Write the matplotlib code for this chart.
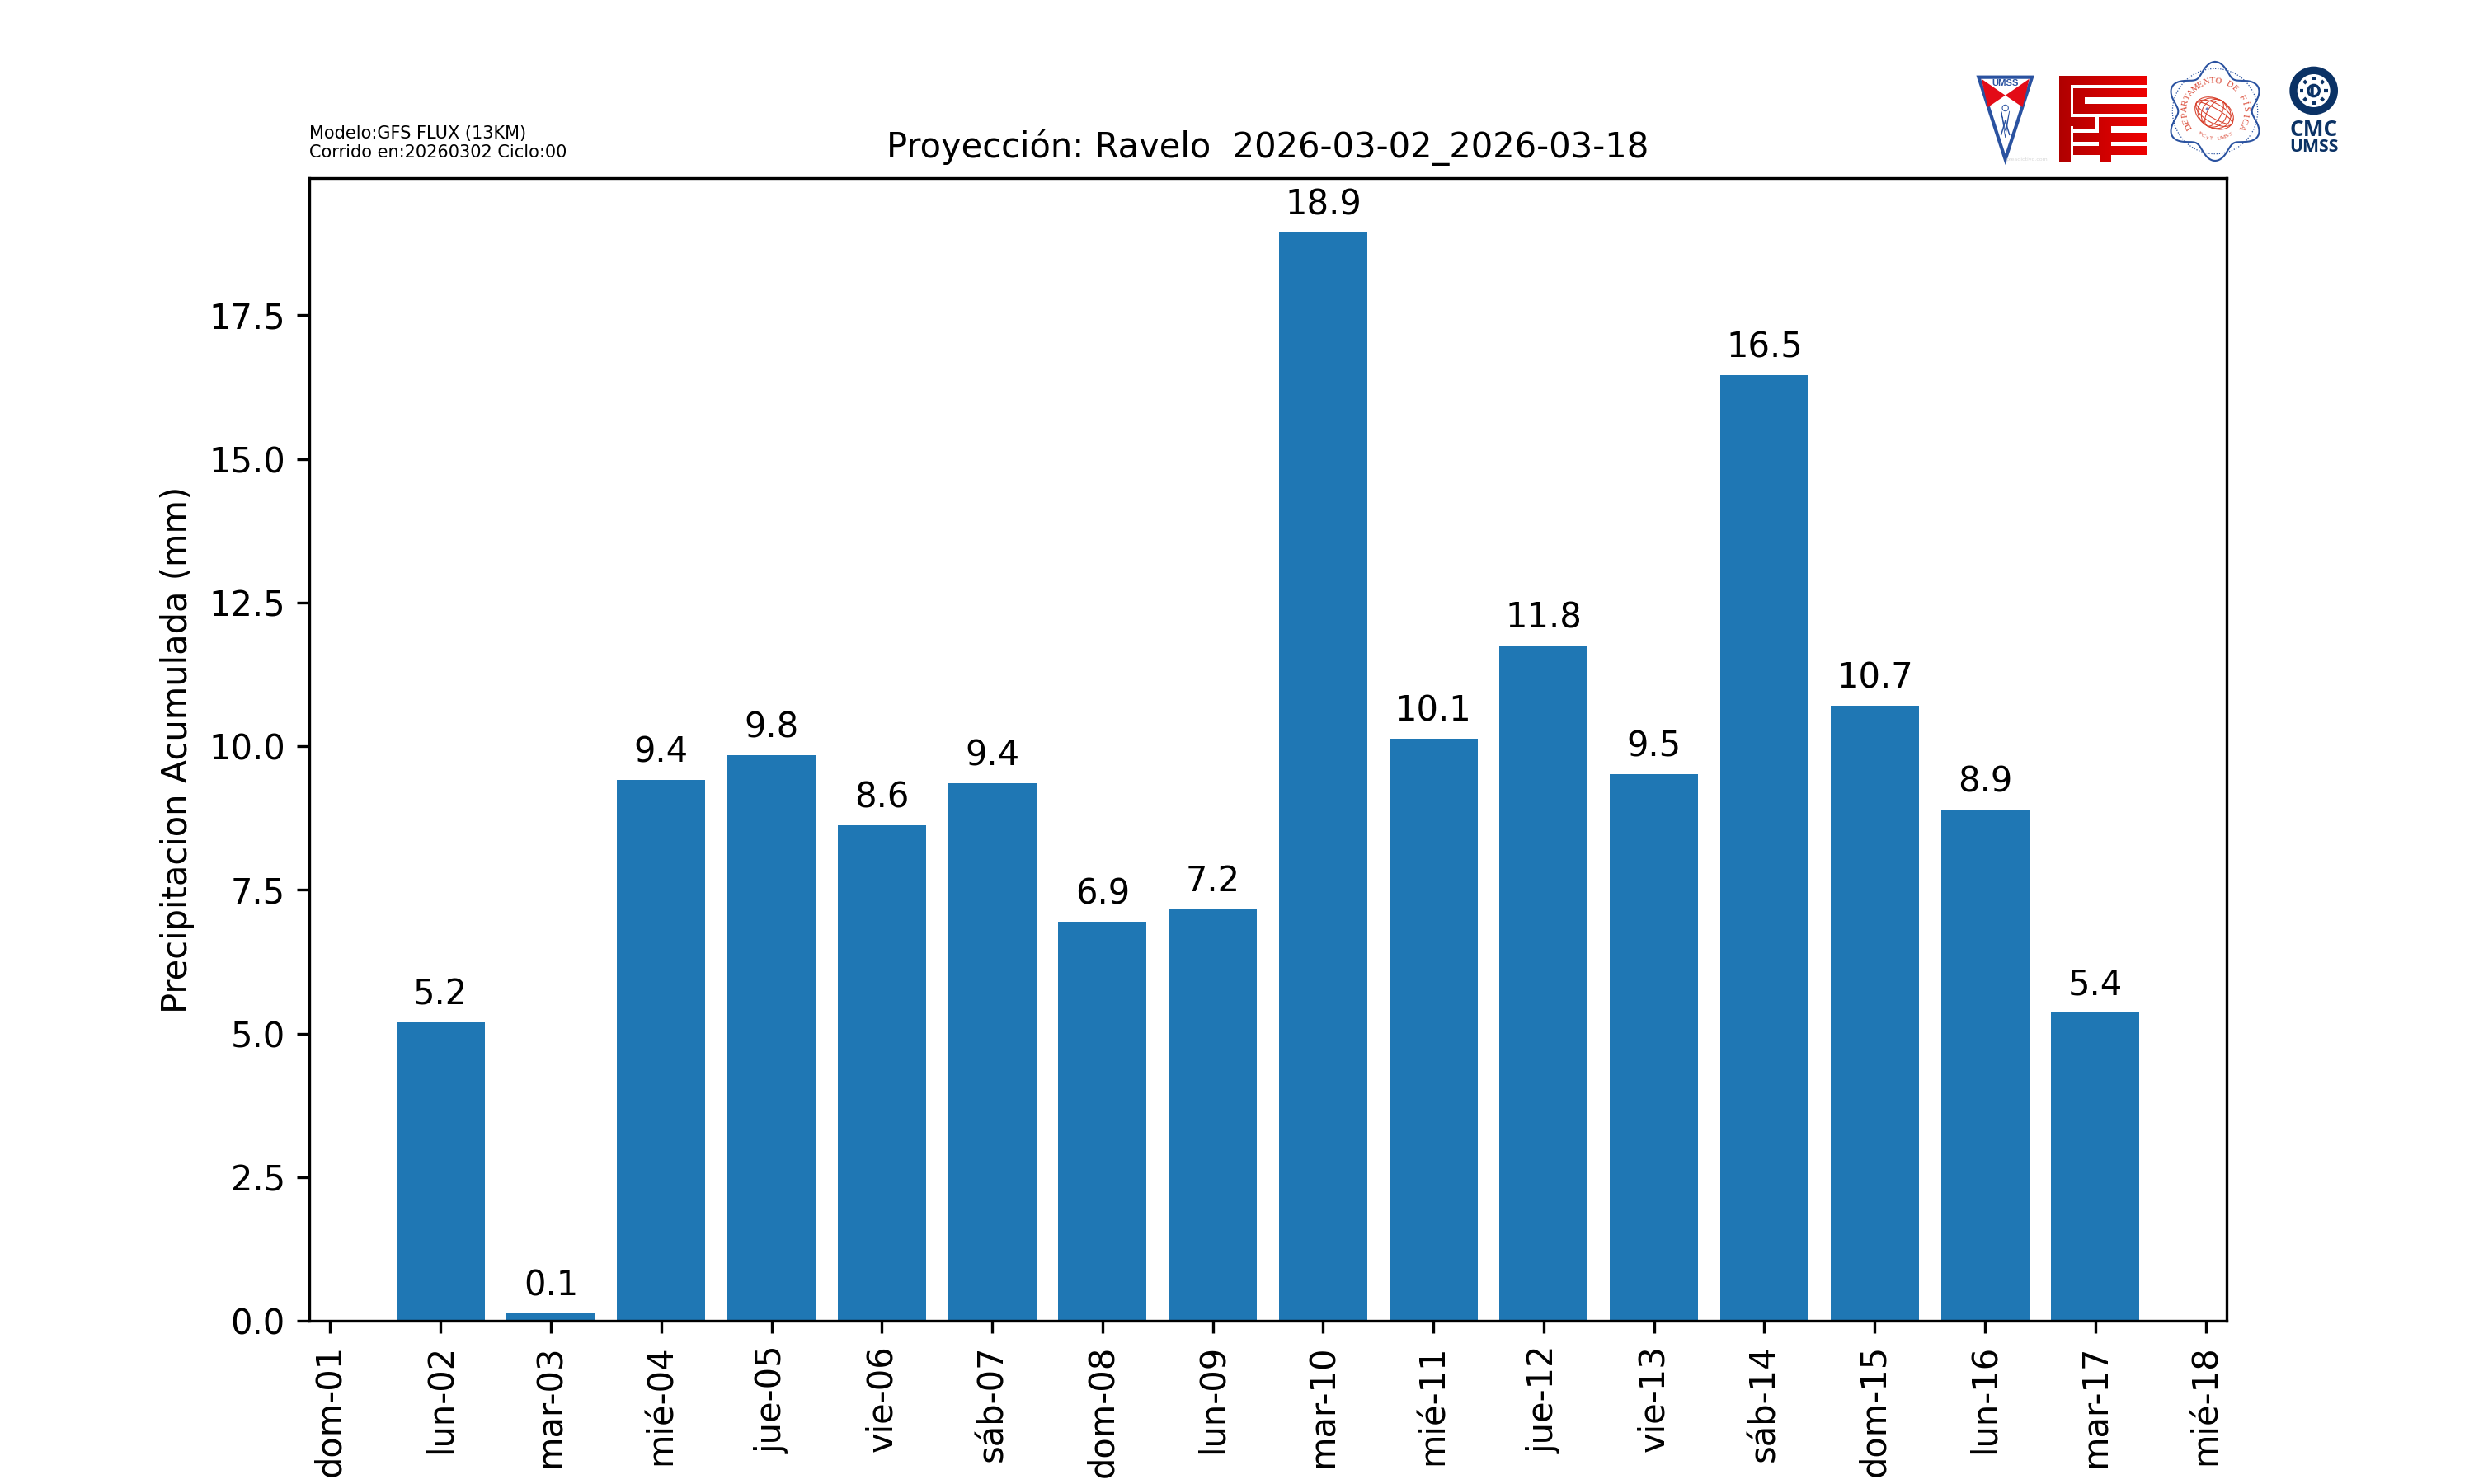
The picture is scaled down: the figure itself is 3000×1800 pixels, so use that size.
import numpy as np
import matplotlib
matplotlib.use("Agg")
import matplotlib.pyplot as plt
from matplotlib.patches import Polygon, Circle, Ellipse, PathPatch
from matplotlib.path import Path

dias = [2, 3, 4, 5, 6, 7, 8, 9, 10, 11, 12, 13, 14, 15, 16, 17]
precip = [5.19, 0.13, 9.41, 9.84, 8.62, 9.36, 6.94, 7.16, 18.94, 10.13, 11.75, 9.52, 16.46, 10.70, 8.90, 5.36]
tick_pos = list(range(1, 19))
tick_labels = ["dom-01", "lun-02", "mar-03", "mié-04", "jue-05", "vie-06", "sáb-07", "dom-08", "lun-09",
               "mar-10", "mié-11", "jue-12", "vie-13", "sáb-14", "dom-15", "lun-16", "mar-17", "mié-18"]

fig, ax = plt.subplots(figsize=(10, 6), dpi=300)
bars = ax.bar(dias, precip, color="#1f77b4")
for d, v in zip(dias, precip):
    ax.annotate(f"{v:.1f}", (d, v), xytext=(0, 3), textcoords="offset points", ha="center", va="bottom")
ax.set_xticks(tick_pos)
ax.set_xticklabels(tick_labels, rotation=90)
ax.set_ylabel("Precipitacion Acumulada (mm)")
ax.set_title("Proyección: Ravelo  2026-03-02_2026-03-18", fontsize=10)
fig.text(0.125, 0.8915, "Modelo:GFS FLUX (13KM)\nCorrido en:20260302 Ciclo:00", fontsize=5, va="bottom")

# logos: overlay axes, coordinates in a 3x grid of the logo strip
lg = fig.add_axes([2380 / 3000, 1 - 230 / 1800, 520 / 3000, 180 / 1800])
lg.axis("off")
azul = "#2a52a0"

# UMSS
lg.add_patch(Polygon([(58, 131), (252, 131), (155, 430)], fc="white", ec=azul, lw=1.0))
lg.add_patch(Polygon([(68, 137), (155, 197), (92, 240)], fc="#e30b17", ec="none"))
lg.add_patch(Polygon([(242, 137), (155, 197), (218, 240)], fc="#e30b17", ec="none"))
lg.text(155, 153, "UMSS", color=azul, fontsize=2.7, fontweight="bold", ha="center", va="center", family="Liberation Sans")
lg.add_patch(Circle((155, 243), 11, fc="none", ec=azul, lw=0.25))
lg.plot([140, 155, 170, 155, 140], [255, 325, 255, 350, 255], color=azul, lw=0.2)
lg.plot([155, 140], [290, 340], color=azul, lw=0.35)
lg.plot([155, 170], [290, 340], color=azul, lw=0.35)
lg.text(232, 430, "preadictivo.com", color="#d8d8d8", fontsize=1.5, ha="center", va="center")

# FCyT
rects = [(350, 125, 668, 158), (350, 125, 392, 440), (403, 170, 668, 205), (403, 205, 445, 263),
         (403, 228, 668, 263), (350, 275, 483, 310), (403, 310, 483, 320), (495, 275, 668, 310),
         (495, 310, 540, 380), (403, 332, 668, 367), (403, 380, 668, 415), (498, 415, 540, 440)]
verts, codes = [], []
for x0, y0, x1, y1 in rects:
    verts += [(x0, y0), (x1, y0), (x1, y1), (x0, y1), (x0, y0)]
    codes += [Path.MOVETO, Path.LINETO, Path.LINETO, Path.LINETO, Path.CLOSEPOLY]
im = lg.imshow(np.linspace(0, 1, 64).reshape(1, -1), extent=(350, 668, 440, 125), aspect="auto", zorder=3,
               cmap=matplotlib.colors.LinearSegmentedColormap.from_list("rojo", ["#b00000", "#ee0000"]))
clip = PathPatch(Path(verts, codes), transform=lg.transData, fc="none", ec="none")
lg.add_patch(clip)
im.set_clip_path(clip)

# Departamento de Fisica
cx, cy = 918, 255
t = np.linspace(0, 2 * np.pi, 400)
r = 157 + 23 * np.cos(6 * t)
lg.plot(cx + r * np.sin(t), cy - r * np.cos(t), color=azul, lw=0.5)
lg.add_patch(Circle((cx, cy), 155, fc="none", ec=azul, lw=0.3, ls=(0, (1, 1.5))))
rojo = "#d8402c"
for w, h, a in [(150, 105, 30), (125, 105, 30), (90, 105, 30), (50, 105, 30), (150, 70, 30), (150, 35, 30)]:
    lg.add_patch(Ellipse((915, 262), w, h, angle=a, fc="none", ec=rojo, lw=0.25))
lg.add_patch(Circle((890, 247), 6, fc="#7080c0", ec="none"))
tit = "DEPARTAMENTO DE FÍSICA"
for i, c in enumerate(tit):
    ang = np.radians(-120 + 240 * i / (len(tit) - 1))
    lg.text(cx + 110 * np.sin(ang), cy - 110 * np.cos(ang), c, color=rojo, fontsize=2.6, family="Liberation Serif",
            ha="center", va="center", rotation=-np.degrees(ang))
pie = "FCyT-UMSS"
for i, c in enumerate(pie):
    ang = np.radians(-35 + 70 * i / (len(pie) - 1))
    lg.text(cx + 100 * np.sin(ang), cy + 100 * np.cos(ang), c, color=rojo, fontsize=1.7, family="Liberation Serif",
            ha="center", va="center", rotation=np.degrees(ang))

# CMC
navy = "#0b3265"
lg.add_patch(Circle((1277, 180), 74, fc="none", ec=navy, lw=2.24))
lg.add_patch(Circle((1277, 180), 20, fc="white", ec=navy, lw=0.8))
lg.add_patch(Polygon([(1277, 160), (1265, 170), (1265, 190), (1277, 200)], fc=navy, ec="none"))
for a in np.radians(np.arange(0, 360, 45)):
    lg.plot([1277 + 38 * np.cos(a), 1277 + 51 * np.cos(a)], [180 + 38 * np.sin(a), 180 + 51 * np.sin(a)],
            color=navy, lw=1.0, solid_capstyle="butt")
lg.text(1277, 322, "CMC", color=navy, fontsize=6.3, fontweight="bold", ha="center", va="center", family="Open Sans")
lg.text(1277, 386, "UMSS", color=navy, fontsize=5.1, fontweight="bold", ha="center", va="center", family="Open Sans")

lg.set_xlim(0, 1560)
lg.set_ylim(540, 0)

fig.savefig("out.png", dpi=300)
